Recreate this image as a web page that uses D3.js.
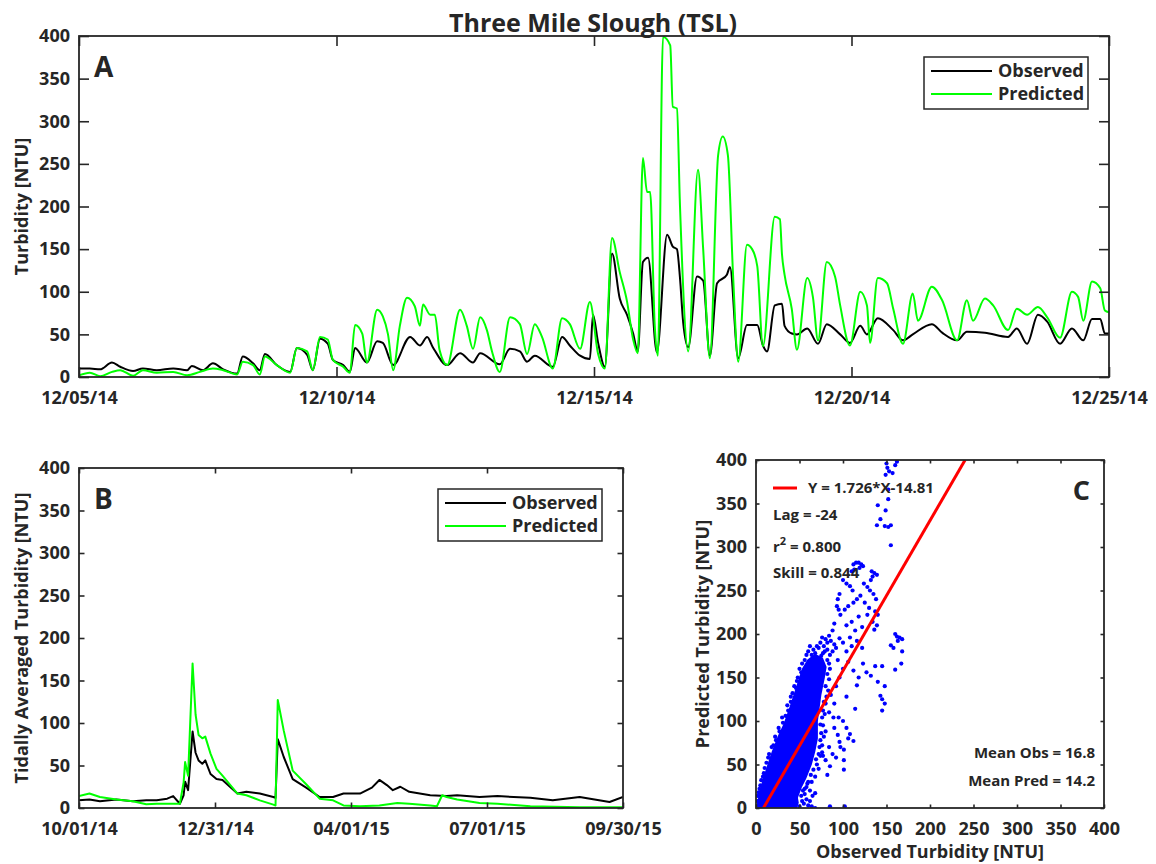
<!DOCTYPE html>
<html>
<head>
<meta charset="utf-8">
<script src="https://cdn.jsdelivr.net/npm/d3@7"></script>
<style>
  body { margin: 0; background: #fff; }
  svg { display: block; }
  text { font-family: "Open Sans", sans-serif; font-weight: bold; fill: #262626; }
</style>
</head>
<body>
<svg width="1156" height="864"></svg>
<script>
// ---- data ----
// Panel A: [days since 12/05/14, NTU]
const aStart = Date.UTC(2014, 11, 5);
const aObserved = [[0,10],[0.21,10],[0.41,9],[0.64,17],[0.8,12],[1.05,7],[1.24,10],[1.51,8],[1.83,10],[2.1,8],[2.19,13],[2.41,8],[2.6,16],[2.8,9],[3.07,4],[3.18,24],[3.38,16],[3.51,8],[3.61,27],[3.84,14],[4.1,6],[4.23,34],[4.43,26],[4.54,8],[4.68,45],[4.83,39],[4.93,20],[5.13,14],[5.26,6],[5.36,34],[5.59,17],[5.79,42],[5.9,40],[6.1,14],[6.43,47],[6.62,37],[6.76,47],[6.87,35],[7.15,14],[7.4,28],[7.65,17],[7.79,28],[8.17,15],[8.37,33],[8.56,30],[8.7,18],[8.85,25],[9.2,12],[9.38,47],[9.53,37],[9.73,25],[9.92,21],[9.98,73],[10.08,40],[10.21,12],[10.35,145],[10.5,92],[10.64,73],[10.76,51],[10.85,30],[10.95,135],[11.05,140],[11.22,29],[11.42,167],[11.53,153],[11.61,150],[11.67,116],[11.73,65],[11.83,35],[12.0,118],[12.12,113],[12.25,25],[12.39,110],[12.58,120],[12.64,129],[12.8,22],[12.97,61],[13.17,61],[13.28,37],[13.36,30],[13.51,84],[13.65,86],[13.7,60],[13.84,51],[13.94,50],[14.14,57],[14.35,39],[14.52,62],[14.78,50],[14.97,40],[15.17,60],[15.3,50],[15.51,69],[15.81,55],[16.0,43],[16.19,50],[16.56,62],[16.76,52],[17.05,43],[17.24,53],[17.59,52],[18.04,47],[18.21,57],[18.41,39],[18.62,73],[18.8,65],[19.05,39],[19.28,57],[19.5,43],[19.67,68],[19.83,68],[19.92,51],[20,51]];
const aPredicted = [[0,2],[0.21,5],[0.41,1],[0.64,6],[0.8,8],[1.05,1.5],[1.24,8],[1.51,5],[1.83,6],[2.1,2],[2.35,6],[2.6,10],[2.8,8],[3.07,3],[3.18,18],[3.38,14],[3.51,3],[3.61,24],[3.84,14],[4.1,5],[4.23,34],[4.43,30],[4.54,8],[4.68,47],[4.83,44],[4.93,20],[5.13,12],[5.26,5],[5.36,61],[5.5,51],[5.59,17],[5.79,79],[5.9,71],[6.0,50],[6.1,8],[6.23,60],[6.37,93],[6.52,83],[6.62,60],[6.68,85],[6.82,73],[6.91,73],[7.0,32],[7.15,14],[7.4,79],[7.53,60],[7.65,33],[7.79,70],[7.92,55],[8.02,30],[8.17,6],[8.37,70],[8.56,62],[8.7,27],[8.85,62],[8.99,47],[9.2,10],[9.38,69],[9.53,62],[9.73,33],[9.92,88],[10.08,27],[10.21,10],[10.35,163],[10.5,123],[10.64,89],[10.76,44],[10.85,28],[10.95,257],[11.03,217],[11.09,217],[11.18,60],[11.24,25],[11.34,399],[11.48,389],[11.53,317],[11.61,315],[11.67,200],[11.83,30],[12.02,243],[12.12,150],[12.25,22],[12.41,260],[12.5,282],[12.6,260],[12.7,120],[12.8,18],[12.97,155],[13.07,150],[13.17,130],[13.28,36],[13.51,188],[13.61,185],[13.65,144],[13.7,120],[13.84,80],[13.94,32],[14.14,116],[14.25,94],[14.35,43],[14.52,135],[14.68,118],[14.78,84],[14.97,37],[15.17,100],[15.3,84],[15.36,40],[15.51,116],[15.69,110],[15.81,80],[16.0,39],[16.19,98],[16.29,66],[16.56,106],[16.76,90],[17.05,43],[17.24,90],[17.36,66],[17.59,92],[17.75,84],[18.04,55],[18.21,80],[18.41,73],[18.62,82],[18.8,70],[19.05,46],[19.28,100],[19.4,94],[19.5,66],[19.67,112],[19.83,104],[19.92,78],[20,76]];
const aTickDates = ['2014-12-05','2014-12-10','2014-12-15','2014-12-20','2014-12-25'];

// Panel B: [days since 10/01/14, NTU]
const bStart = Date.UTC(2014, 9, 1);
const bObserved = [[0,9],[7,10],[14,8],[25,10],[36,8],[45,9],[52,9],[59,11],[63,14],[67.5,5],[70,15],[71,31],[73,21],[76,90],[78,65],[80,56],[82.5,52],[84.5,56],[88,40],[92,34],[96,33],[106,17],[112,19],[121,17],[130,13],[131.5,12],[133,81],[137,60],[143,34],[152,24],[161,13],[170,13],[177,17],[188,17],[196,24],[201,33],[206,27],[210,21],[215,25],[221,19],[235,15],[246,14],[253,15],[268,13],[280,14],[302,12],[317,9],[335,13],[355,7],[364,13]];
const bPredicted = [[0,14],[7,17],[14,13],[25,10],[36,8],[45,4.5],[52,5],[59,5],[63,5],[67.5,5],[70,30],[71,54],[73,38],[76,170],[78,110],[80,86],[82.5,82],[84.5,84],[88,64],[92,46],[96,38],[106,17],[112,15],[121,9],[130,4],[131.5,3],[133,127],[137,91],[143,44],[152,28],[161,11],[170,9],[177,3],[188,2],[201,3],[213,6],[221,5],[235,3],[239.5,2],[243,15],[246,13],[253,10],[268,6],[280,5],[302,2],[335,1],[364,1]];
const bTickDates = ['2014-10-01','2014-12-31','2015-04-01','2015-07-01','2015-09-30'];

// Panel C: outline of the solid dense core and the separate points, [observed, predicted]
const cDenseCore = [[3,0],[46,0],[48,6],[47,12],[52,25],[57,35],[63,50],[67,65],[70,80],[70,100],[72,115],[74,130],[78,150],[80,162],[76,172],[68,176],[60,170],[54,160],[50,148],[45,132],[39,114],[33,97],[26,82],[19,64],[13,46],[8,30],[4,14],[2,4]];
const cPoints = [[150,396],[151,391],[153,387],[149,383],[162,398],[160,394],[157,385],[152,366],[152,355],[140,348],[149,342],[143,332],[139,325],[148,324],[152,323],[155,325],[155,302],
  [112,280],[115,282],[118,282],[121,280],[123,278],[119,276],[110,272],[113,274],[133,272],[136,270],[139,268],[134,266],[132,262],
  [100,262],[104,258],[108,255],[111,250],[124,258],[128,254],[131,250],[135,246],[138,240],[120,244],[116,240],[112,236],[106,232],[102,228],[125,236],[130,230],[137,226],[140,222],[128,222],[118,220],[110,214],[104,210],[134,214],[139,210],[136,205],[122,208],[114,204],[96,246],[94,240],[93,232],[95,228],[97,222],[90,212],
  [88,204],[84,198],[80,194],[86,192],[90,188],[78,186],[82,182],[88,180],[92,184],[77,178],[85,176],[96,195],[100,190],[108,196],[116,192],[110,186],[122,184],[104,180],
  [160,200],[162,197],[165,196],[168,194],[163,192],[158,184],[155,187],[168,180],
  [167,166],[160,159],[137,163],[145,163],[123,166],[116,141],[104,128],[114,114],[140,145],[148,140],[145,125],[148,120],[145,112],[143,129],[127,156],[132,152],
  [100,100],[104,92],[108,85],[112,77],[106,80],[89,104],[95,104],[101,67],[101,55],[101,44],[94,84],[96,76],[97,70],[77,60],[80,55],[85,48],[82,38],[76,64],[68,17],[65,14],[64,2],[68,0],[85,2],[102,2],[54,20],[58,24],[60,30],[72,45],[88,62],[92,58],[84,70],[80,88],[90,92],[84,110],[90,120],[86,130],[92,140],[96,150],[100,160],[94,170],[106,168],[112,158],[118,150],
  [60,180],[66,182],[72,184],[56,170],[50,160],[48,150],[44,140],[40,128],[36,118],[30,104],[26,92],[22,82],[18,70],[14,58],[10,46],[8,36],[5,26],[3,18],[2,8],[1,2],
  [55,5],[58,10],[60,3],[62,8],[56,16],[62,20],[64,30],[68,36],[70,50],[74,60],[76,72],[78,82],[77,95],[79,108],[80,120],[83,135],[84,148],[85,160],[82,170],[75,175],[68,178],
  [2,14],[4,22],[6,32],[9,40],[12,52],[15,62],[20,72],[23,78],[27,88],[31,98],[34,106],[37,112],[40,122],[42,132],[46,138],[47,146],[52,156],[53,166],[58,176],[62,186],
  [50,2],[53,8],[52,14],[56,22],[59,28],[63,38],[66,44],[69,56],[72,62],[73,70],[74,78],[75,86],[74,96],[76,104],[77,112],[78,122],[81,128],[80,140],[82,154],[84,166],[79,180],[74,190],[70,186],[64,176],[76,196],[82,190]];
const fitSlope = 1.726, fitIntercept = -14.81;
const cStats = ['Lag = -24', 'r2', 'Skill = 0.844'];
const cMeans = ['Mean Obs = 16.8', 'Mean Pred = 14.2'];
const turbTicks = [0, 50, 100, 150, 200, 250, 300, 350, 400];

// ---- drawing ----
const svg = d3.select('svg');
const ink = '#262626';
const day = 864e5;
const fmt = d3.utcFormat('%m/%d/%y');
const parse = d3.utcParse('%Y-%m-%d');

// box + inward ticks on all four sides, labels only bottom/left
function drawAxes(g, x, y, w, h, tick, xTicks, xFmt, xPad) {
  const ax = [
    [d3.axisBottom(x).tickValues(xTicks).tickFormat(xFmt).tickPadding(xPad), `translate(0,${h})`],
    [d3.axisTop(x).tickValues(xTicks).tickFormat(''), 'translate(0,0)'],
    [d3.axisLeft(y).tickValues(turbTicks).tickFormat(d3.format('d')).tickPadding(9), 'translate(0,0)'],
    [d3.axisRight(y).tickValues(turbTicks).tickFormat(''), `translate(${w},0)`]
  ];
  ax.forEach(([a, t]) => {
    const s = g.append('g').attr('transform', t)
      .call(a.tickSizeInner(-tick).tickSizeOuter(0));
    s.select('.domain').remove();
    s.selectAll('line').attr('stroke', ink).attr('stroke-width', 1.6);
    s.selectAll('text').attr('font-size', 18).attr('fill', ink)
      .style('font-family', '"Open Sans", sans-serif').style('font-weight', 'bold');
  });
  g.append('rect').attr('width', w).attr('height', h)
    .attr('fill', 'none').attr('stroke', ink).attr('stroke-width', 1.8);
}

function legend(g, x0, y0, w, h) {
  g.append('rect').attr('x', x0).attr('y', y0).attr('width', w).attr('height', h)
    .attr('fill', '#fff').attr('stroke', ink).attr('stroke-width', 1.5);
  [['Observed', '#000'], ['Predicted', '#00ff00']].forEach(([name, c], i) => {
    const yy = y0 + 14 + i * 23;
    g.append('line').attr('x1', x0 + 7).attr('x2', x0 + 68).attr('y1', yy).attr('y2', yy)
      .attr('stroke', c).attr('stroke-width', 2);
    g.append('text').attr('x', x0 + 74).attr('y', yy).attr('dy', '0.36em')
      .attr('font-size', 18).text(name);
  });
}

function timePanel(left, top, w, h, start, obs, pred, ticks, tick, label, letter, legPos, curve) {
  const g = svg.append('g').attr('transform', `translate(${left},${top})`);
  const t0 = parse(ticks[0]), t1 = parse(ticks[ticks.length - 1]);
  const x = d3.scaleUtc().domain([t0, t1]).range([0, w]);
  const y = d3.scaleLinear().domain([0, 400]).range([h, 0]);
  const id = 'clip' + letter;
  g.append('clipPath').attr('id', id).append('rect').attr('width', w).attr('height', h);
  const line = d3.line().x(d => x(new Date(start + d[0] * day))).y(d => y(d[1])).curve(curve);
  [[obs, '#000'], [pred, '#00ff00']].forEach(([s, c]) => {
    g.append('path').datum(s).attr('d', line).attr('fill', 'none')
      .attr('stroke', c).attr('stroke-width', 2).attr('stroke-linejoin', 'round')
      .attr('clip-path', `url(#${id})`);
  });
  drawAxes(g, x, y, w, h, tick, ticks.map(parse), fmt, 14);
  g.append('text').attr('x', 15).attr('y', 41).attr('font-size', 28).text(letter);
  legend(g, legPos[0], legPos[1], 164, 52);
  svg.append('text').attr('transform', `translate(28,${top + h / 2}) rotate(-90)`)
    .attr('text-anchor', 'middle').attr('font-size', 18).text(label);
}

svg.append('text').attr('x', 593).attr('y', 32).attr('text-anchor', 'middle')
  .attr('font-size', 25).attr('fill', '#000').text('Three Mile Slough (TSL)');

timePanel(79, 36, 1030, 341, aStart, aObserved, aPredicted, aTickDates, 10,
  'Turbidity [NTU]', 'A', [845, 21], d3.curveMonotoneX);
timePanel(79, 468, 544, 340, bStart, bObserved, bPredicted, bTickDates, 5.5,
  'Tidally Averaged Turbidity [NTU]', 'B', [359, 21], d3.curveLinear);

// Panel C scatter
(function () {
  const left = 756, top = 460, w = 348, h = 348;
  const g = svg.append('g').attr('transform', `translate(${left},${top})`);
  const x = d3.scaleLinear().domain([0, 400]).range([0, w]);
  const y = d3.scaleLinear().domain([0, 400]).range([h, 0]);
  g.append('clipPath').attr('id', 'clipC').append('rect').attr('width', w).attr('height', h);
  const body = g.append('g').attr('clip-path', 'url(#clipC)');
  body.append('path').datum(cDenseCore)
    .attr('d', d3.line().x(d => x(d[0])).y(d => y(d[1])).curve(d3.curveLinearClosed))
    .attr('fill', '#0000ff').attr('stroke', '#0000ff').attr('stroke-width', 2);
  body.selectAll('circle').data(cPoints).join('circle')
    .attr('cx', d => x(d[0])).attr('cy', d => y(d[1])).attr('r', 2.1).attr('fill', '#0000ff');
  const xa = (0 - fitIntercept) / fitSlope, xb = (400 - fitIntercept) / fitSlope;
  body.append('line').attr('x1', x(xa)).attr('y1', y(0)).attr('x2', x(xb)).attr('y2', y(400))
    .attr('stroke', '#ff0000').attr('stroke-width', 3);
  drawAxes(g, x, y, w, h, 3.5, turbTicks, d3.format('d'), 14);

  // fit legend and stats
  g.append('line').attr('x1', 17).attr('x2', 41).attr('y1', 28).attr('y2', 28)
    .attr('stroke', '#ff0000').attr('stroke-width', 3);
  g.append('text').attr('x', 52).attr('y', 33).attr('font-size', 15)
    .text(`Y = ${fitSlope}*X${fitIntercept}`);
  g.append('text').attr('x', 17).attr('y', 60).attr('font-size', 15).text(cStats[0]);
  const r = g.append('text').attr('x', 17).attr('y', 92).attr('font-size', 15);
  r.append('tspan').text('r');
  r.append('tspan').attr('dy', -7).attr('font-size', 11).text('2');
  r.append('tspan').attr('dy', 7).text(' = 0.800');
  g.append('text').attr('x', 17).attr('y', 118).attr('font-size', 15).text(cStats[2]);
  cMeans.forEach((s, i) => {
    g.append('text').attr('x', 339).attr('y', 298 + i * 28).attr('text-anchor', 'end')
      .attr('font-size', 15).text(s);
  });
  g.append('text').attr('x', 334).attr('y', 40).attr('text-anchor', 'end')
    .attr('font-size', 27).attr('fill', '#000').text('C');

  svg.append('text').attr('x', left + w / 2).attr('y', 858).attr('text-anchor', 'middle')
    .attr('font-size', 18).text('Observed Turbidity [NTU]');
  svg.append('text').attr('transform', `translate(709,${top + h / 2}) rotate(-90)`)
    .attr('text-anchor', 'middle').attr('font-size', 18).text('Predicted Turbidity [NTU]');
})();
</script>
</body>
</html>
